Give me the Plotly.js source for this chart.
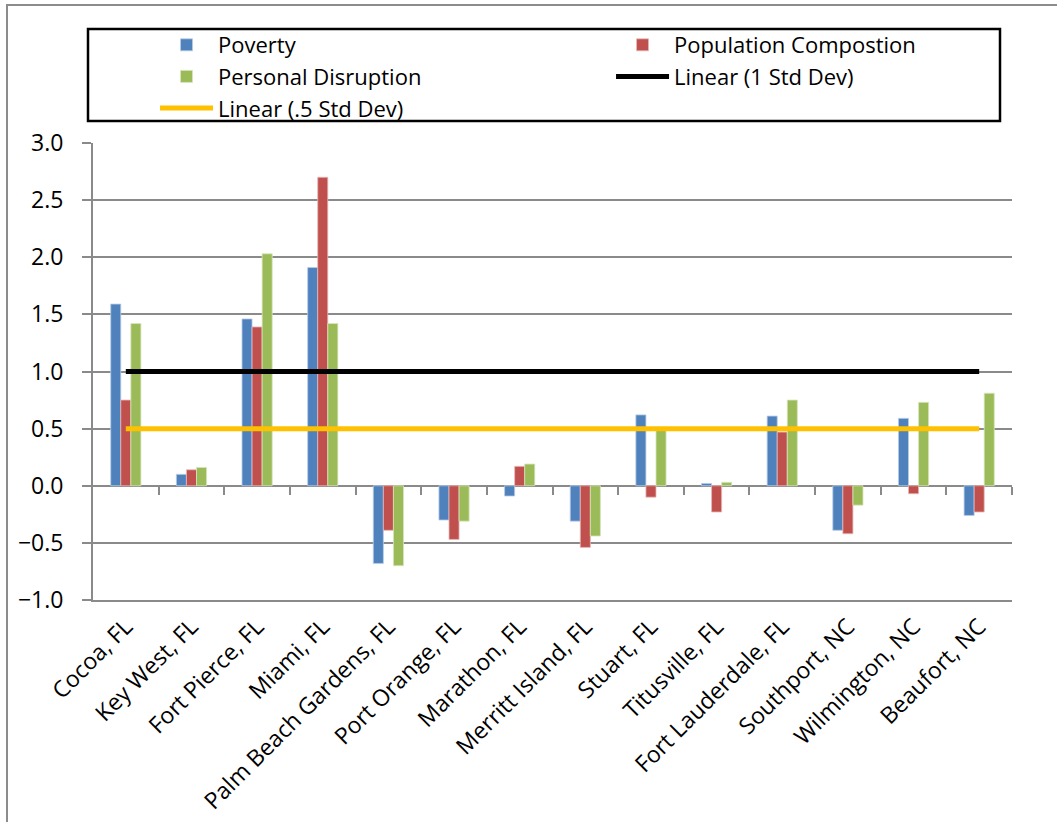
<!DOCTYPE html>
<html>
<head>
<meta charset="utf-8">
<script src="https://cdn.plot.ly/plotly-3.0.1.min.js"></script>
<style>html,body{margin:0;padding:0;background:#fff;}#chart{width:1057px;height:822px;}</style>
</head>
<body>
<div id="chart"></div>
<script>
const categories = ["Cocoa, FL","Key West, FL","Fort Pierce, FL","Miami, FL","Palm Beach Gardens, FL","Port Orange, FL","Marathon, FL","Merritt Island, FL","Stuart, FL","Titusville, FL","Fort Lauderdale, FL","Southport, NC","Wilmington, NC","Beaufort, NC"];
const poverty = [1.59, 0.10, 1.46, 1.91, -0.68, -0.30, -0.09, -0.31, 0.62, 0.02, 0.61, -0.39, 0.59, -0.26];
const populationComposition = [0.75, 0.14, 1.39, 2.70, -0.39, -0.47, 0.17, -0.54, -0.10, -0.23, 0.47, -0.42, -0.07, -0.23];
const personalDisruption = [1.42, 0.16, 2.03, 1.42, -0.70, -0.31, 0.19, -0.44, 0.49, 0.03, 0.75, -0.17, 0.73, 0.81];
const oneStdDev = 1.0;
const halfStdDev = 0.5;
const yTickVals = [-1.0, -0.5, 0.0, 0.5, 1.0, 1.5, 2.0, 2.5, 3.0];

const FONT = "Open Sans, sans-serif";
const GRID = "#8a8a8a";
const lineX = [categories[0], categories[categories.length - 1]];

const traces = [
  {type: "bar", name: "Poverty", x: categories, y: poverty, legend: "legend", legendrank: 1,
   marker: {color: "#4F81BD", line: {color: "#B9CDE5", width: 0.8}}},
  {type: "bar", name: "Population Compostion", x: categories, y: populationComposition, legend: "legend2", legendrank: 1,
   marker: {color: "#C0504D", line: {color: "#E6B9B8", width: 0.8}}},
  {type: "bar", name: "Personal Disruption", x: categories, y: personalDisruption, legend: "legend", legendrank: 2,
   marker: {color: "#9BBB59", line: {color: "#D7E4BD", width: 0.8}}},
  {type: "scatter", mode: "lines", name: "Linear (1 Std Dev)", x: lineX, y: [oneStdDev, oneStdDev], legend: "legend2", legendrank: 2,
   line: {color: "#000000", width: 5}},
  {type: "scatter", mode: "lines", name: "Linear (.5 Std Dev)", x: lineX, y: [halfStdDev, halfStdDev], legend: "legend", legendrank: 3,
   line: {color: "#FFC000", width: 5}},
  // empty helper trace so the zero-crossing tick axis (x2) gets drawn
  {type: "scatter", mode: "markers", x: [], y: [], xaxis: "x2", yaxis: "y",
   showlegend: false, hoverinfo: "skip"}
];

const boundaries = categories.map((_, i) => i + 0.5);

const legendBase = {
  orientation: "v", xanchor: "left", y: 1.2604, yanchor: "top",
  bgcolor: "rgba(0,0,0,0)", borderwidth: 0, itemwidth: 53,
  tracegroupgap: 0, traceorder: "normal",
  font: {family: FONT, size: 22, color: "#000000"}
};

const layout = {
  width: 1057, height: 822,
  margin: {l: 93, r: 45, t: 143, b: 222, pad: 0},
  paper_bgcolor: "#ffffff", plot_bgcolor: "#ffffff",
  font: {family: FONT, size: 23, color: "#000000"},
  barmode: "group", bargap: 0.54, bargroupgap: 0,
  showlegend: true,
  legend: Object.assign({}, legendBase, {x: 0.0675}),
  legend2: Object.assign({}, legendBase, {x: 0.5637}),
  xaxis: {
    type: "category", range: [-0.5, 13.5],
    showgrid: false, zeroline: false,
    showline: true, linecolor: GRID, linewidth: 2,
    ticks: "", tickangle: -45, ticklabelstandoff: 2,
    tickfont: {family: FONT, size: 23, color: "#000000"}
  },
  xaxis2: {
    overlaying: "x", anchor: "free", position: 0.25, type: "linear",
    range: [-0.5, 13.5], tickmode: "array", tickvals: boundaries,
    showticklabels: false, ticks: "outside", ticklen: 8, tickwidth: 2, tickcolor: GRID,
    showgrid: false, zeroline: false, showline: false
  },
  yaxis: {
    range: [-1.0, 3.0], tickmode: "array", tickvals: yTickVals, tickformat: ".1f",
    showgrid: true, gridcolor: GRID, gridwidth: 2,
    zeroline: true, zerolinecolor: GRID, zerolinewidth: 2,
    showline: true, linecolor: GRID, linewidth: 2,
    ticks: "outside", ticklen: 9, tickwidth: 2, tickcolor: GRID,
    ticklabelstandoff: 14,
    tickfont: {family: FONT, size: 23, color: "#000000"}
  },
  shapes: [
    {type: "rect", xref: "paper", yref: "paper",
     x0: (88 - 93) / 919, x1: (1000 - 93) / 919, y0: (600 - 121) / 457, y1: (600 - 29) / 457,
     line: {color: "#000000", width: 2.5}, fillcolor: "rgba(0,0,0,0)", layer: "below"},
    {type: "rect", xref: "paper", yref: "paper",
     x0: (7 - 93) / 919, x1: (1080 - 93) / 919, y0: (600 - 860) / 457, y1: (600 - 5) / 457,
     line: {color: "#8c8c8c", width: 2}, fillcolor: "rgba(0,0,0,0)", layer: "below"}
  ]
};

Plotly.newPlot("chart", traces, layout, {displayModeBar: false, staticPlot: true});
</script>
</body>
</html>
